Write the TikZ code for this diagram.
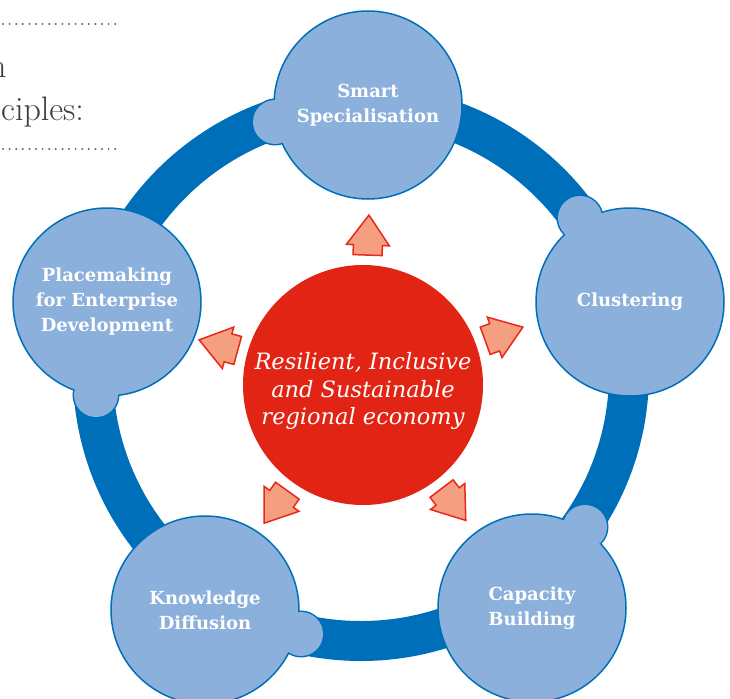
\documentclass[tikz,border=0pt]{standalone}
\usepackage{fontspec}
\setmainfont{Latin Modern Roman}
\newfontfamily\labelfont{DejaVu Serif}
\definecolor{ringblue}{RGB}{0,111,186}
\definecolor{bubblefill}{RGB}{140,176,220}
\definecolor{hubred}{RGB}{226,36,20}
\definecolor{arrowfill}{RGB}{244,160,128}
\definecolor{arrowline}{RGB}{232,40,24}
\definecolor{greytext}{RGB}{60,60,60}
\definecolor{dotgrey}{RGB}{100,100,100}
\tikzset{
  bubble/.style={circle, draw=ringblue, line width=1.5pt, fill=bubblefill, minimum size=188pt, inner sep=0pt,
    align=center, text=white, font=\labelfont\bfseries\fontsize{18}{25}\selectfont},
  bumpline/.style={draw=ringblue, line width=3pt, fill=bubblefill},
  bumpfill/.style={fill=bubblefill},
  hub/.style={circle, fill=hubred, minimum size=240pt, inner sep=0pt},
  hubtext/.style={align=center, text=white, inner sep=0pt,
    font=\labelfont\itshape\fontsize{22.5}{27.5}\selectfont},
  blockarrow/.style={draw=arrowline, line width=1.5pt, fill=arrowfill, line join=miter},
  dotmark/.style={fill=dotgrey},
  sidetext/.style={anchor=base west, inner sep=0pt, text=greytext, font=\fontsize{34}{43}\selectfont}
}
\begin{document}
\begin{tikzpicture}[x=1pt,y=-1pt]
\useasboundingbox (0,0) rectangle (730,698);

% side text (cut off at the left edge, as in the reference)
\foreach \i in {0,...,17}{
  \fill[dotmark] (3+\i*6.6,24) circle[radius=1.1];
  \fill[dotmark] (3+\i*6.6,149) circle[radius=1.1];
}
\node[sidetext] (tn) at (-11,78) {n};
\node[sidetext] (tp) at (1,121) {ciples:};

% ring
\coordinate (rc) at (361,373);
\draw[ringblue, line width=40pt] (rc) circle[radius=268];

% arrows
\coordinate (hc) at (363,385);
\foreach \ang in {88,19.9,-52.8,-125.6,164.6}{
  \draw[blockarrow, shift={(hc)}, rotate=\ang]
    (130,-14.5) -- (140,-14.5) -- (140,-21.5) -- (170,0) -- (140,21.5) -- (140,14.5) -- (130,14.5) -- cycle;
}

% hub
\node[hub] (hub) at (hc) {};
\node[hubtext] (hubt) at (363,391) {Resilient, Inclusive\\and Sustainable\\regional economy};

% bumps (outline)
\foreach \p in {(275,122),(580,218),(585,527),(301,634),(96,395)}{
  \draw[bumpline] \p circle[radius=22];
}

% outer circles
\node[bubble] (smart) at (368,105) {Smart\\Specialisation};
\node[bubble] (clust) at (630,302) {Clustering};
\node[bubble] (cap) at (532,608) {Capacity\\Building};
\node[bubble] (know) at (205,610) {Knowledge\\Diffusion};
\node[bubble] (place) at (107,302) {Placemaking\\for Enterprise\\Development};

% bumps (fill over circle borders)
\foreach \p in {(275,122),(580,218),(585,527),(301,634),(96,395)}{
  \fill[bumpfill] \p circle[radius=22];
}
\end{tikzpicture}
\end{document}
